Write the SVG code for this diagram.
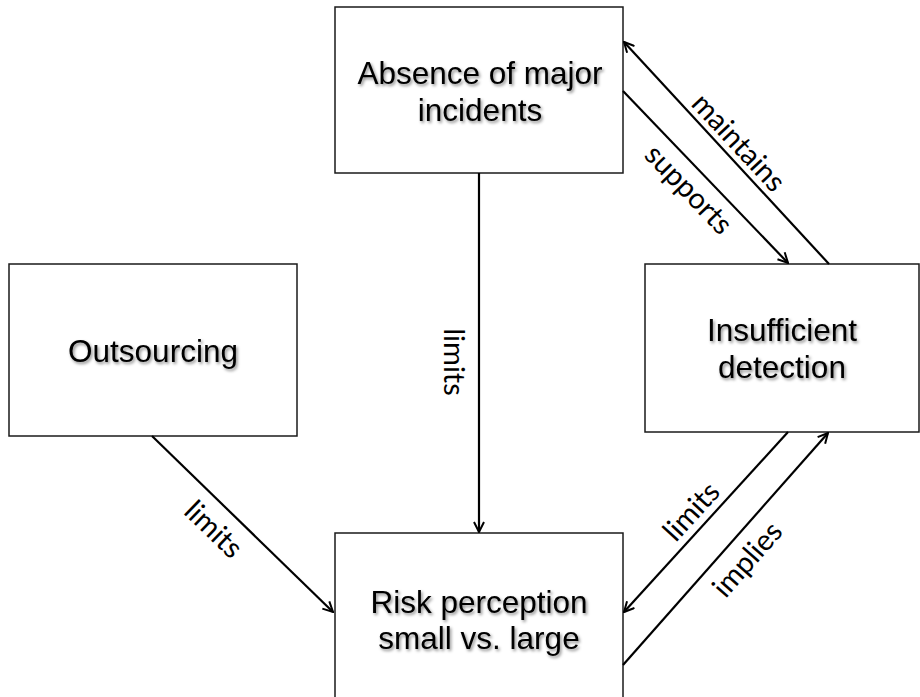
<svg xmlns="http://www.w3.org/2000/svg" width="920" height="697" viewBox="0 0 920 697">
  <style>
    .box { fill: #ffffff; stroke: #1a1a1a; stroke-width: 1.5; }
    .node-text { font-family: "Liberation Sans", Arial, sans-serif; font-size: 31.5px; fill: #000000; text-anchor: middle; filter: url(#txtShadow); }
    .edge { stroke: #000000; stroke-width: 2.2; fill: none; marker-end: url(#arrow); }
    .edge-label { font-family: Lato, "Open Sans", sans-serif; font-size: 29px; fill: #000000; text-anchor: middle; }
  </style>
  <defs>
    <filter id="txtShadow" x="-10%" y="-30%" width="120%" height="160%">
      <feDropShadow dx="1.5" dy="2" stdDeviation="1.5" flood-color="#000000" flood-opacity="0.45"/>
    </filter>
    <marker id="arrow" viewBox="0 0 12 12" refX="11" refY="6" markerWidth="12" markerHeight="12" markerUnits="userSpaceOnUse" orient="auto">
      <path d="M1,1 L11,6 L1,11" fill="none" stroke="#000000" stroke-width="2"/>
    </marker>
  </defs>

  <rect width="920" height="697" fill="#ffffff"/>

  <!-- nodes -->
  <g id="absence">
    <rect class="box" x="335" y="7" width="288" height="166"/>
    <text class="node-text" x="480" y="84">Absence of major</text>
    <text class="node-text" x="480" y="121">incidents</text>
  </g>
  <g id="outsourcing">
    <rect class="box" x="9" y="264" width="288" height="172"/>
    <text class="node-text" x="153" y="362">Outsourcing</text>
  </g>
  <g id="detection">
    <rect class="box" x="645" y="264" width="274" height="168"/>
    <text class="node-text" x="782" y="341">Insufficient</text>
    <text class="node-text" x="782" y="378">detection</text>
  </g>
  <g id="risk">
    <rect class="box" x="335" y="533" width="288" height="180"/>
    <text class="node-text" x="479" y="613">Risk perception</text>
    <text class="node-text" x="479" y="649">small vs. large</text>
  </g>

  <!-- connectors -->
  <g id="connectors">
    <line class="edge" x1="479" y1="173" x2="479" y2="532"/>
    <line class="edge" x1="152" y1="436" x2="333" y2="612"/>
    <line class="edge" x1="623" y1="91" x2="788" y2="263"/>
    <line class="edge" x1="829" y1="264" x2="624" y2="42"/>
    <line class="edge" x1="788" y1="432" x2="624" y2="612"/>
    <line class="edge" x1="623" y1="665" x2="828" y2="433"/>

    <text class="edge-label" transform="translate(453,362) rotate(90)" y="9">limits</text>
    <text class="edge-label" transform="translate(213,530) rotate(44)" y="9">limits</text>
    <text class="edge-label" transform="translate(688,190) rotate(46)" y="9">supports</text>
    <text class="edge-label" transform="translate(738,143) rotate(47)" y="9">maintains</text>
    <text class="edge-label" transform="translate(692,512) rotate(-47.6)" y="9">limits</text>
    <text class="edge-label" transform="translate(748,560) rotate(-48.7)" y="9">implies</text>
  </g>
</svg>
